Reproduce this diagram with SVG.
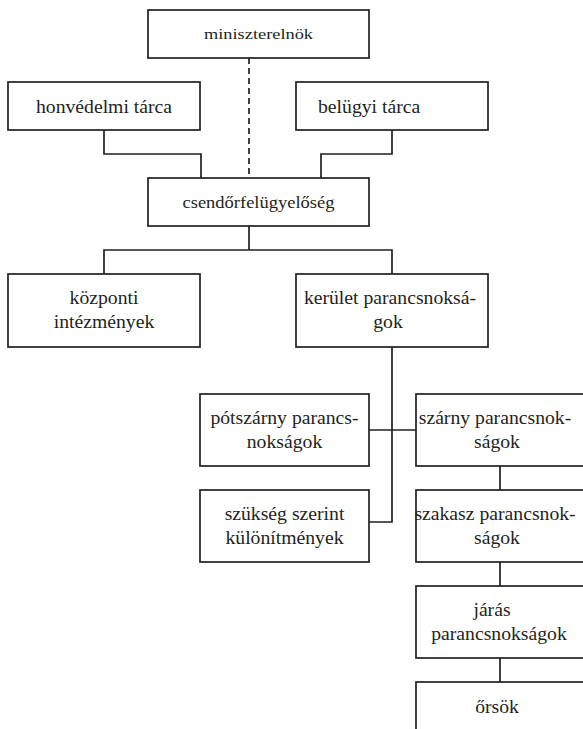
<svg xmlns="http://www.w3.org/2000/svg" width="583" height="729" viewBox="0 0 583 729">
<style>
.box{fill:#fff;stroke:#231f20;stroke-width:1.7}
text{font-family:'Liberation Serif','Times New Roman',Times,serif;font-size:19.7px;fill:#231f20;text-anchor:middle}
.s{font-size:15px}
.c{fill:none;stroke:#231f20;stroke-width:1.7}
.d{stroke-dasharray:6 4}
</style>
<rect width="583" height="729" fill="#fff"/>
<g id="connectors">
<path class="c d" d="M249 58V178"/>
<path class="c" d="M104 130V154H201V178"/>
<path class="c" d="M392 130V154H321V178"/>
<path class="c" d="M249 226V250M104 274V250H392V274"/>
<path class="c" d="M392 347V522H369"/>
<path class="c" d="M369 430H416"/>
<path class="c" d="M500 466V490M500 562V586M500 658V682"/>
</g>
<g id="miniszterelnok">
<rect class="box" x="148" y="10" width="221" height="48"/>
<text class="s" x="258.5" y="39" textLength="109" lengthAdjust="spacingAndGlyphs">miniszterelnök</text>
</g>
<g id="honvedelmi">
<rect class="box" x="8" y="82" width="192" height="48"/>
<text x="104" y="112.5">honvédelmi tárca</text>
</g>
<g id="belugyi">
<rect class="box" x="296" y="82" width="192" height="48"/>
<text x="318" y="112.5" style="text-anchor:start">belügyi tárca</text>
</g>
<g id="csendorfelugyeloseg">
<rect class="box" x="148" y="178" width="221" height="48"/>
<text class="s" x="258.5" y="208" style="font-size:16px" textLength="152" lengthAdjust="spacingAndGlyphs">csendőrfelügyelőség</text>
</g>
<g id="kozponti">
<rect class="box" x="8" y="274" width="192" height="73"/>
<text x="104" y="304">központi</text>
<text x="104" y="328">intézmények</text>
</g>
<g id="kerulet">
<rect class="box" x="296" y="274" width="192" height="73"/>
<text x="390" y="304">kerület parancsnoksá-</text>
<text x="388" y="328">gok</text>
</g>
<g id="potszarny">
<rect class="box" x="200" y="394" width="169" height="72"/>
<text x="284.5" y="424">pótszárny parancs-</text>
<text x="284.5" y="448">nokságok</text>
</g>
<g id="szarny">
<rect class="box" x="416" y="394" width="200" height="72"/>
<text x="495" y="424">szárny parancsnok-</text>
<text x="497" y="448">ságok</text>
</g>
<g id="szukseg">
<rect class="box" x="200" y="490" width="169" height="72"/>
<text x="284.5" y="520">szükség szerint</text>
<text x="284.5" y="544">különítmények</text>
</g>
<g id="szakasz">
<rect class="box" x="416" y="490" width="200" height="72"/>
<text x="495" y="520">szakasz parancsnok-</text>
<text x="497" y="544">ságok</text>
</g>
<g id="jaras">
<rect class="box" x="416" y="586" width="200" height="72"/>
<text x="492" y="616">járás</text>
<text x="499" y="640">parancsnokságok</text>
</g>
<g id="orsok">
<rect class="box" x="416" y="682" width="200" height="72"/>
<text x="497" y="713">őrsök</text>
</g>
</svg>
